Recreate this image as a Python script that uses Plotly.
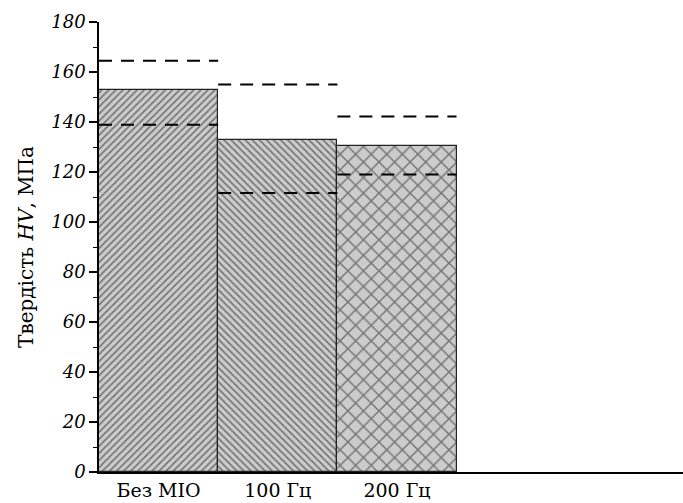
import plotly.graph_objects as go

categories = ["Без МІО", "100 Гц", "200 Гц"]
hardness = [152.8, 132.8, 130.5]
upper_bound = [164.5, 155.0, 142.2]
lower_bound = [138.9, 111.6, 119.0]
patterns = ["/", "\\", "x"]
y_ticks = [0, 20, 40, 60, 80, 100, 120, 140, 160, 180]
y_tick_labels = [f"<i>{v}</i>" for v in y_ticks]

xpos = list(range(len(categories)))
font_family = "DejaVu Serif, Liberation Serif, serif"

fig = go.Figure()
for i, cat in enumerate(categories):
    fig.add_trace(go.Bar(
        x=[xpos[i]], y=[hardness[i]], width=1.0, name=cat,
        marker=dict(color="#cfcfcf",
                    line=dict(color="#222222", width=1.2),
                    pattern=dict(shape=patterns[i], fgcolor="#1a1a1a",
                                 bgcolor="#cccccc",
                                 size=5 if i < 2 else 11,
                                 solidity=0.34 if i < 2 else 0.24)),
        showlegend=False))

for i in range(len(categories)):
    for val in (upper_bound[i], lower_bound[i]):
        fig.add_trace(go.Scatter(
            x=[xpos[i] - 0.5, xpos[i] + 0.5], y=[val, val], mode="lines",
            line=dict(color="black", width=2, dash="13px,9px"),
            showlegend=False, hoverinfo="skip"))

fig.update_layout(
    width=683, height=503,
    margin=dict(l=99, r=0, t=22, b=31),
    paper_bgcolor="white", plot_bgcolor="white",
    bargap=0,
    font=dict(family=font_family, color="black", size=18),
    xaxis=dict(range=[-0.5, 4.4], tickvals=xpos, ticktext=categories,
               showgrid=False, zeroline=False, showline=True,
               linecolor="black", linewidth=1.5, ticks="", automargin=False,
               tickfont=dict(family=font_family, size=19)),
    yaxis=dict(range=[0, 180], tickvals=y_ticks, ticktext=y_tick_labels,
               showgrid=False,
               zeroline=False, showline=True, linecolor="black",
               linewidth=1.5, ticks="outside", ticklen=8, tickwidth=1.5,
               tickcolor="black", automargin=False,
               minor=dict(tickvals=[10, 30, 50, 70, 90, 110, 130, 150, 170],
                          ticks="outside", ticklen=4, tickwidth=1.2,
                          tickcolor="black"),
               tickfont=dict(family=font_family, size=18),
               title=dict(text="Твердість <i>HV</i>, МПа",
                          font=dict(family=font_family, size=20),
                          standoff=12)),
)

fig.write_html("out.html", config={"displayModeBar": False},
               post_script="document.body.style.margin='0px';document.body.style.overflow='hidden';")
